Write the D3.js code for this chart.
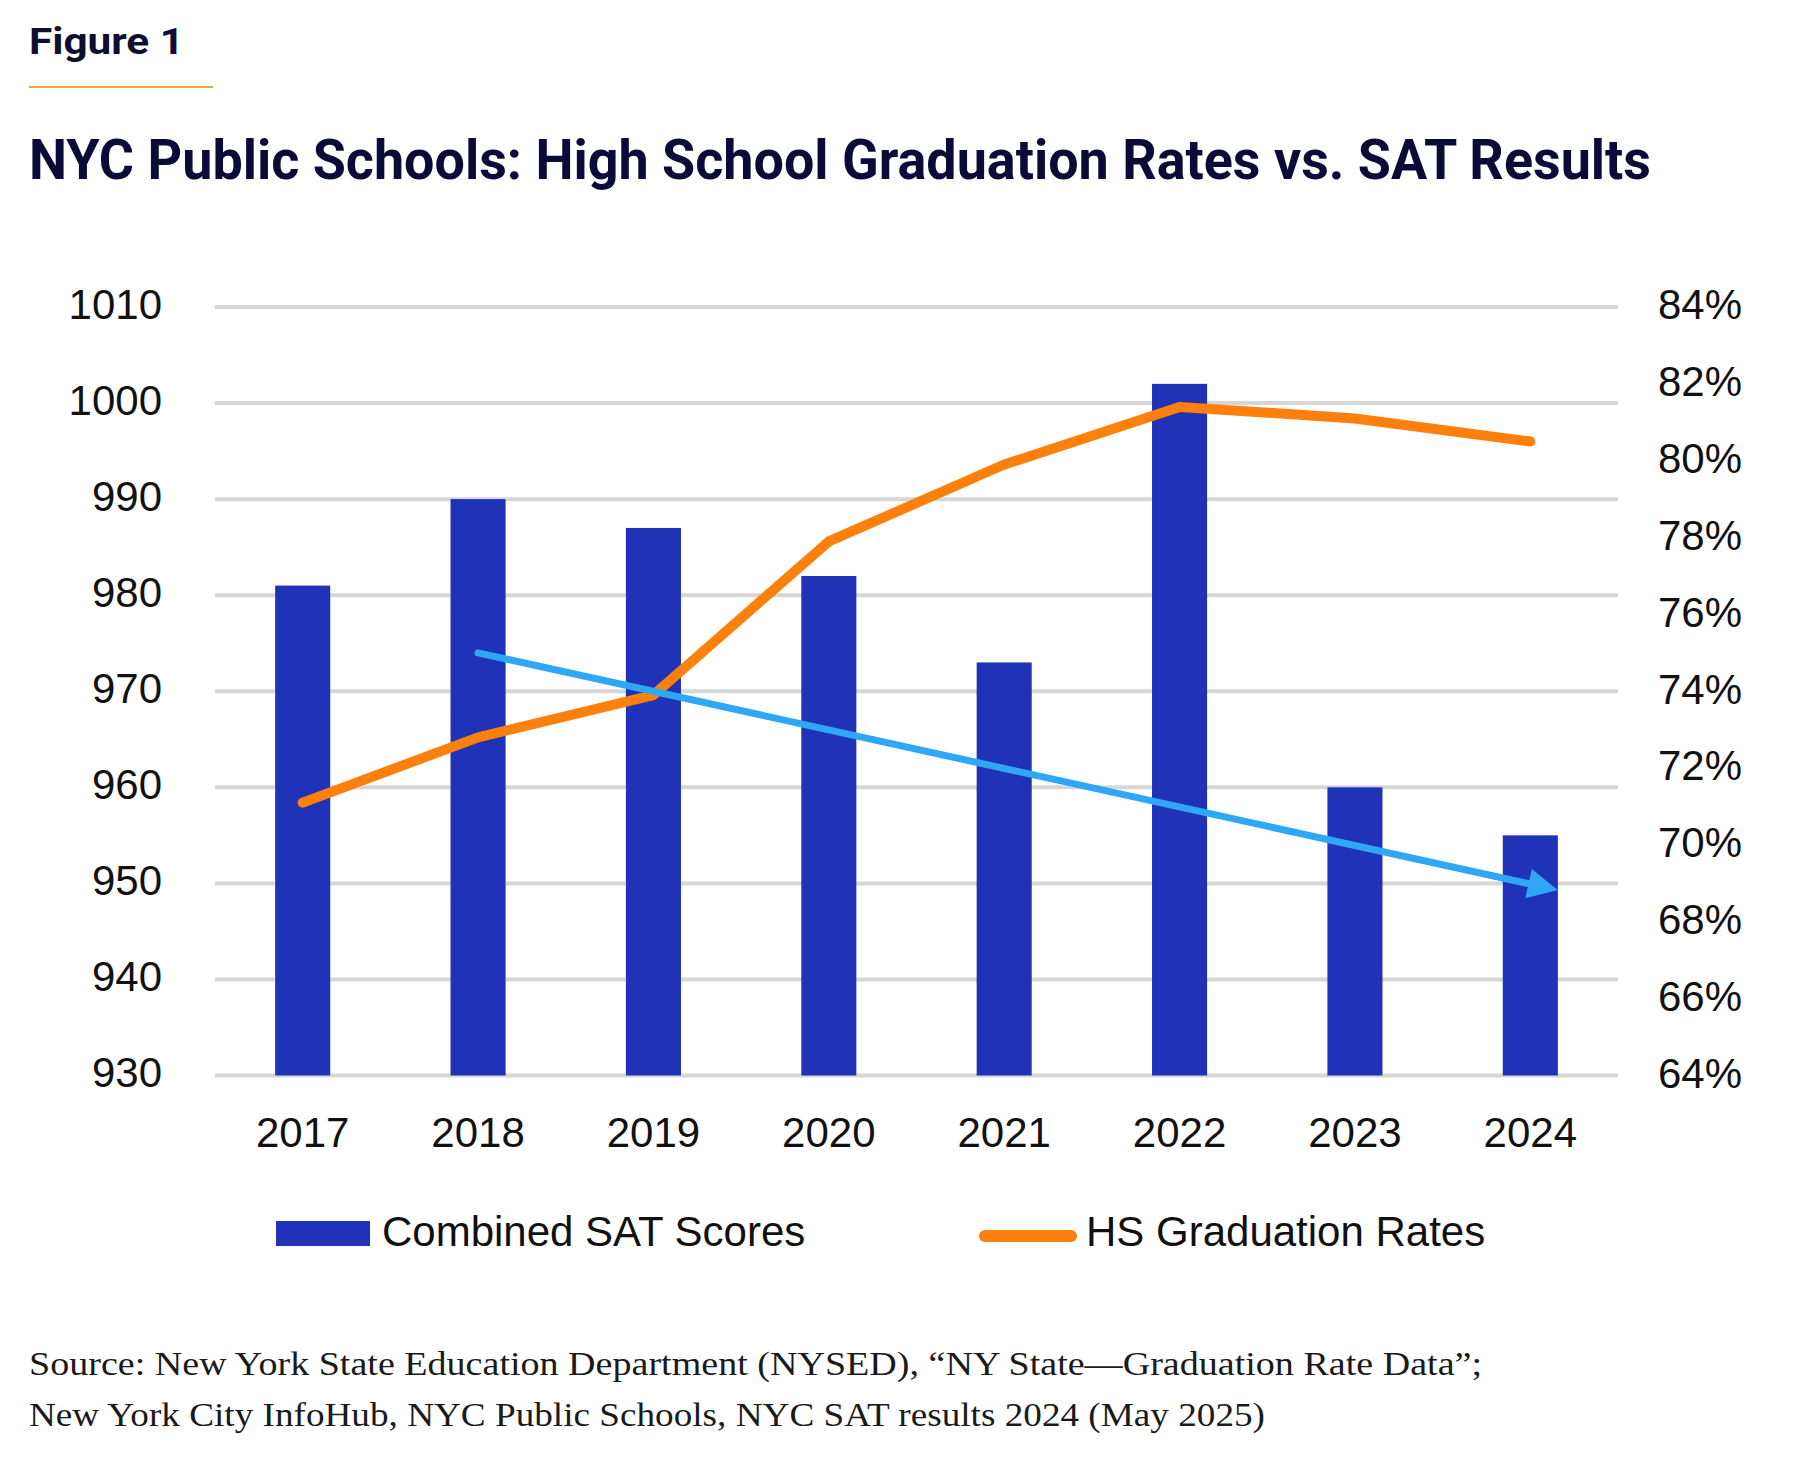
<!DOCTYPE html>
<html lang="en">
<head>
<meta charset="utf-8">
<title>NYC Public Schools: High School Graduation Rates vs. SAT Results</title>
<script src="https://cdn.jsdelivr.net/npm/d3@7"></script>
<style>
  html, body { margin: 0; padding: 0; background: #fff; }
  svg { display: block; }
  .tick text { font-family: "Liberation Sans", Arial, sans-serif; font-size: 42px; fill: #111; }
</style>
</head>
<body>
<div id="chart"></div>
<script>
// data
var years = ["2017", "2018", "2019", "2020", "2021", "2022", "2023", "2024"];
var satScores = [981, 990, 987, 982, 973, 1002, 960, 955];
var gradRates = [71.1, 72.8, 73.9, 77.9, 79.9, 81.4, 81.1, 80.5];
var satTicks = [930, 940, 950, 960, 970, 980, 990, 1000, 1010];
var rateTicks = [64, 66, 68, 70, 72, 74, 76, 78, 80, 82, 84];
// trend arrow drawn over the bars: from 2018 down to the end of 2024
var trendYears = ["2018", "2024"];
var trendValues = [974, 949.3];

var width = 1800, height = 1468;
var plotLeft = 215, plotRight = 1618, plotTop = 307, plotBottom = 1075.5;

var svg = d3.select("#chart").append("svg")
    .attr("width", width)
    .attr("height", height);

var x = d3.scaleBand().domain(years).range([plotLeft, plotRight]).paddingInner(0.686).paddingOuter(0.343);
var ySat = d3.scaleLinear().domain([930, 1010]).range([plotBottom, plotTop]);
var yRate = d3.scaleLinear().domain([64, 84]).range([plotBottom, plotTop]);

// header
svg.append("text")
    .attr("x", 29).attr("y", 54)
    .attr("textLength", 155).attr("lengthAdjust", "spacingAndGlyphs")
    .style("font-family", "Roboto, 'Liberation Sans', sans-serif")
    .style("font-weight", 700).style("font-size", "37px")
    .style("fill", "#0e0f30")
    .text("Figure 1");

svg.append("line")
    .attr("x1", 29).attr("x2", 213).attr("y1", 87).attr("y2", 87)
    .style("stroke", "#f2a33a").style("stroke-width", 2);

svg.append("text")
    .attr("x", 29).attr("y", 179)
    .attr("textLength", 1622).attr("lengthAdjust", "spacingAndGlyphs")
    .style("font-family", "Roboto, 'Liberation Sans', sans-serif")
    .style("font-weight", 700).style("font-size", "55px")
    .style("fill", "#0b0b38")
    .text("NYC Public Schools: High School Graduation Rates vs. SAT Results");

// gridlines
svg.append("g").selectAll("line")
    .data(satTicks)
    .join("line")
    .attr("x1", plotLeft).attr("x2", plotRight)
    .attr("y1", function(d) { return ySat(d); })
    .attr("y2", function(d) { return ySat(d); })
    .style("stroke", "#d6d6d6").style("stroke-width", 4);

// axes (labels only)
var leftAxis = svg.append("g")
    .attr("transform", "translate(" + plotLeft + ",0)")
    .call(d3.axisLeft(ySat).tickValues(satTicks).tickSize(0).tickPadding(53)
        .tickFormat(d3.format("d")));
leftAxis.select(".domain").remove();
leftAxis.selectAll("text").attr("dy", "0.27em");

var rightAxis = svg.append("g")
    .attr("transform", "translate(" + plotRight + ",0)")
    .call(d3.axisRight(yRate).tickValues(rateTicks).tickSize(0).tickPadding(40)
        .tickFormat(function(d) { return d + "%"; }));
rightAxis.select(".domain").remove();
rightAxis.selectAll("text").attr("dy", "0.28em");

var bottomAxis = svg.append("g")
    .attr("transform", "translate(0," + plotBottom + ")")
    .call(d3.axisBottom(x).tickSize(0).tickPadding(42));
bottomAxis.select(".domain").remove();

// bars
svg.append("g").selectAll("rect")
    .data(years)
    .join("rect")
    .attr("x", function(d) { return x(d); })
    .attr("width", x.bandwidth())
    .attr("y", function(d, i) { return ySat(satScores[i]); })
    .attr("height", function(d, i) { return ySat(930) - ySat(satScores[i]); })
    .style("fill", "#2033b8");

// graduation rate line
var rateLine = d3.line()
    .x(function(d, i) { return x(years[i]) + x.bandwidth() / 2; })
    .y(function(d) { return yRate(d); });

svg.append("path")
    .datum(gradRates)
    .attr("d", rateLine)
    .style("fill", "none")
    .style("stroke", "#fd7f0c")
    .style("stroke-width", 10)
    .style("stroke-linejoin", "round")
    .style("stroke-linecap", "round");

// trend arrow
var x0 = x(trendYears[0]) + x.bandwidth() / 2,
    y0 = ySat(trendValues[0]),
    x1 = x(trendYears[1]) + x.bandwidth(),
    y1 = ySat(trendValues[1]);
var dx = x1 - x0, dy = y1 - y0, len = Math.sqrt(dx * dx + dy * dy);
var ux = dx / len, uy = dy / len;
var headLen = 30, headHalf = 15;
var bx = x1 - ux * headLen, by = y1 - uy * headLen;

svg.append("line")
    .attr("x1", x0).attr("y1", y0)
    .attr("x2", bx + ux * 2).attr("y2", by + uy * 2)
    .style("stroke", "#2ea7f7")
    .style("stroke-width", 7)
    .style("stroke-linecap", "round");

svg.append("path")
    .attr("d", "M" + x1 + "," + y1 +
        "L" + (bx - uy * headHalf) + "," + (by + ux * headHalf) +
        "L" + (bx + uy * headHalf) + "," + (by - ux * headHalf) + "Z")
    .style("fill", "#2ea7f7");

// legend
var legend = svg.append("g").style("font-family", "'Liberation Sans', Arial, sans-serif")
    .style("font-size", "42px").style("fill", "#111");

legend.append("rect")
    .attr("x", 276).attr("y", 1221).attr("width", 94).attr("height", 25)
    .style("fill", "#2033b8");
legend.append("text").attr("x", 382).attr("y", 1246).text("Combined SAT Scores");

legend.append("line")
    .attr("x1", 985).attr("x2", 1071).attr("y1", 1236).attr("y2", 1236)
    .style("stroke", "#fd7f0c").style("stroke-width", 12).style("stroke-linecap", "round");
legend.append("text").attr("x", 1086).attr("y", 1246).text("HS Graduation Rates");

// source note
var source = svg.append("g")
    .style("font-family", "'Liberation Serif', 'Times New Roman', serif")
    .style("font-size", "34px").style("fill", "#1a1a1a");
source.append("text").attr("x", 29).attr("y", 1375)
    .attr("textLength", 1453).attr("lengthAdjust", "spacingAndGlyphs")
    .text("Source: New York State Education Department (NYSED), \u201CNY State\u2014Graduation Rate Data\u201D;");
source.append("text").attr("x", 29).attr("y", 1426)
    .attr("textLength", 1236).attr("lengthAdjust", "spacingAndGlyphs")
    .text("New York City InfoHub, NYC Public Schools, NYC SAT results 2024 (May 2025)");
</script>
</body>
</html>
